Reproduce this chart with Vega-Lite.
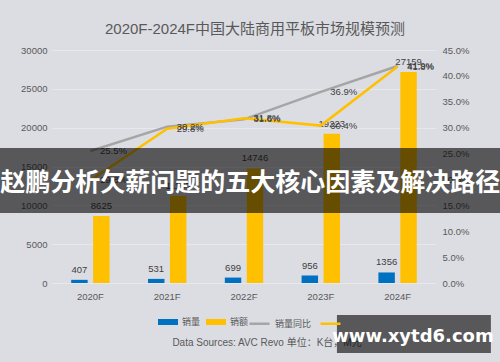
{
  "$schema": "https://vega.github.io/schema/vega-lite/v6.json",
  "width": 384,
  "height": 233,
  "autosize": {"type": "none"},
  "padding": {"left": 52, "top": 50, "right": 64, "bottom": 79},
  "background": "#dcdde3",
  "title": {
    "text": "2020F-2024F中国大陆商用平板市场规模预测",
    "fontSize": 15,
    "fontWeight": "normal",
    "color": "#595959",
    "font": "Liberation Sans, Noto Sans CJK SC, sans-serif",
    "anchor": "middle",
    "dx": 11,
    "offset": 8
  },
  "datasets": {
    "bars": [
      {"year": "2020F", "series": "销量", "value": 407},
      {"year": "2020F", "series": "销额", "value": 8625},
      {"year": "2021F", "series": "销量", "value": 531},
      {"year": "2021F", "series": "销额", "value": 11195},
      {"year": "2022F", "series": "销量", "value": 699},
      {"year": "2022F", "series": "销额", "value": 14746},
      {"year": "2023F", "series": "销量", "value": 956},
      {"year": "2023F", "series": "销额", "value": 19223},
      {"year": "2024F", "series": "销量", "value": 1356},
      {"year": "2024F", "series": "销额", "value": 27159}
    ],
    "lines": [
      {"year": "2020F", "series": "销量同比", "pct": 0.255},
      {"year": "2021F", "series": "销量同比", "pct": 0.302},
      {"year": "2022F", "series": "销量同比", "pct": 0.316},
      {"year": "2023F", "series": "销量同比", "pct": 0.369},
      {"year": "2024F", "series": "销量同比", "pct": 0.419},
      {"year": "2020F", "series": "销额同比", "pct": 0.198},
      {"year": "2021F", "series": "销额同比", "pct": 0.298},
      {"year": "2022F", "series": "销额同比", "pct": 0.318},
      {"year": "2023F", "series": "销额同比", "pct": 0.304},
      {"year": "2024F", "series": "销额同比", "pct": 0.418}
    ]
  },
  "layer": [
    {
      "data": {"name": "bars"},
      "encoding": {
        "x": {
          "field": "year", "type": "nominal", "title": null,
          "scale": {"type": "band", "paddingInner": 0.5, "paddingOuter": 0.25},
          "axis": {"labelAngle": 0, "ticks": false, "domain": false, "labelPadding": 8, "labelFontSize": 9.5, "labelColor": "#595959", "grid": false}
        },
        "xOffset": {"field": "series", "type": "nominal", "scale": {"domain": ["销量", "销额"], "paddingInner": 0.25, "paddingOuter": 0}},
        "y": {
          "field": "value", "type": "quantitative", "title": null,
          "scale": {"domain": [0, 30000], "nice": false},
          "axis": {"values": [0, 5000, 10000, 15000, 20000, 25000, 30000], "format": "d", "ticks": false, "domain": false, "labelPadding": 5, "labelFontSize": 9.5, "labelColor": "#595959", "grid": true, "gridColor": "#e8e8ec", "gridWidth": 1}
        }
      },
      "layer": [
        {
          "mark": {"type": "bar"},
          "encoding": {
            "fill": {
              "field": "series", "type": "nominal",
              "scale": {"domain": ["销量", "销额"], "range": ["#0070C0", "#FFC000"]},
              "legend": {
                "title": null, "orient": "none", "direction": "horizontal",
                "legendX": 106, "legendY": 262,
                "symbolType": "M-1,-0.3H1V0.3H-1Z", "symbolSize": 400, "symbolStrokeWidth": 0,
                "labelFontSize": 9, "labelColor": "#595959", "labelOffset": 4, "columnPadding": 5
              }
            }
          }
        },
        {
          "mark": {"type": "text", "baseline": "alphabetic", "dy": -7, "fontSize": 9.5, "color": "#404040"},
          "encoding": {"text": {"field": "value", "type": "quantitative", "format": "d"}}
        }
      ]
    },
    {
      "data": {"name": "lines"},
      "encoding": {
        "x": {
          "field": "year", "type": "nominal",
          "scale": {"type": "band", "paddingInner": 0.5, "paddingOuter": 0.25},
          "axis": null
        },
        "y": {
          "field": "pct", "type": "quantitative", "title": null,
          "scale": {"domain": [0, 0.45], "nice": false},
          "axis": {"orient": "right", "format": ".1%", "values": [0, 0.05, 0.1, 0.15, 0.2, 0.25, 0.3, 0.35, 0.4, 0.45], "ticks": false, "domain": false, "grid": false, "labelPadding": 6, "labelFontSize": 9.5, "labelColor": "#595959"}
        }
      },
      "layer": [
        {
          "mark": {"type": "line", "strokeWidth": 2.5},
          "encoding": {
            "stroke": {
              "field": "series", "type": "nominal",
              "scale": {"domain": ["销量同比", "销额同比"], "range": ["#A5A5A5", "#FFC000"]},
              "legend": {
                "title": null, "orient": "none", "direction": "horizontal",
                "legendX": 196, "legendY": 262,
                "symbolType": "stroke", "symbolSize": 400, "symbolStrokeWidth": 2.5,
                "labelFontSize": 9, "labelColor": "#595959", "labelOffset": 4, "columnPadding": 3
              }
            }
          }
        },
        {
          "mark": {"type": "text", "align": "center", "baseline": "middle", "dx": 23, "fontSize": 9.5, "color": "#404040"},
          "encoding": {
            "text": {"field": "pct", "type": "quantitative", "format": ".1%"},
            "detail": {"field": "series"}
          }
        }
      ]
    },
    {
      "data": {"values": [{}]},
      "layer": [
        {
          "mark": {"type": "rect", "color": "#000000", "opacity": 0.6, "clip": false},
          "encoding": {
            "x": {"datum": -0.2, "type": "quantitative", "scale": {"domain": [0, 1], "nice": false, "zero": false}, "axis": null},
            "x2": {"datum": 1.2},
            "y": {"datum": 0.579, "type": "quantitative", "scale": {"domain": [0, 1], "nice": false, "zero": false}, "axis": null},
            "y2": {"datum": 0.3}
          }
        },
        {
          "mark": {"type": "text", "text": "赵鹏分析欠薪问题的五大核心因素及解决路径", "font": "Noto Sans CJK SC", "fontWeight": "bold", "fontSize": 25, "color": "#ffffff", "align": "center", "baseline": "middle", "clip": false},
          "encoding": {
            "x": {"datum": 0.516, "type": "quantitative"},
            "y": {"datum": 0.429, "type": "quantitative"}
          }
        },
        {
          "mark": {"type": "text", "text": "Data Sources: AVC Revo 单位：K台，M元", "fontSize": 10, "color": "#595959", "align": "center", "baseline": "middle", "clip": false},
          "encoding": {
            "x": {"datum": 0.56, "type": "quantitative"},
            "y": {"datum": -0.2575, "type": "quantitative"}
          }
        },
        {
          "mark": {"type": "rect", "color": "#000000", "opacity": 0.6, "clip": false},
          "encoding": {
            "x": {"datum": 0.742, "type": "quantitative"},
            "x2": {"datum": 1.143},
            "y": {"datum": -0.137, "type": "quantitative"},
            "y2": {"datum": -0.3}
          }
        },
        {
          "mark": {"type": "text", "text": "www.xytd6.com", "font": "DejaVu Sans", "fontWeight": "bold", "fontSize": 18, "color": "#ffffff", "align": "center", "baseline": "middle", "clip": false},
          "encoding": {
            "x": {"datum": 0.94, "type": "quantitative"},
            "y": {"datum": -0.232, "type": "quantitative"}
          }
        }
      ]
    }
  ],
  "resolve": {"scale": {"x": "independent", "y": "independent"}},
  "config": {
    "view": {"stroke": null},
    "font": "Liberation Sans, Noto Sans CJK SC, sans-serif",
    "axis": {"labelFont": "Liberation Sans, Noto Sans CJK SC, sans-serif"},
    "legend": {"labelFont": "Noto Sans CJK SC, sans-serif", "padding": 0}
  }
}
